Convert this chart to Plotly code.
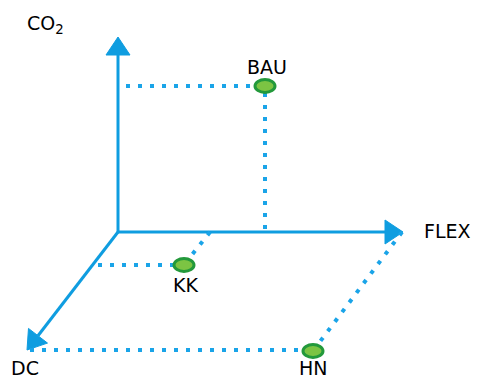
import numpy as np
import plotly.graph_objects as go

# diagram coordinates (pixel space of the original picture, y pointing down)
origin = (118, 232)
axis_names = ["CO<sub>2</sub>", "FLEX", "DC"]
axis_tips_x = [118, 403, 27]
axis_tips_y = [37, 232, 350]
axis_label_x = [45, 447, 25]
axis_label_y = [24, 231, 368]

scenarios = ["BAU", "KK", "HN"]
point_x = [265, 184, 313]
point_y = [86, 265, 351]
label_x = [267, 185, 313]
label_y = [67, 285, 368]

# dotted guide lines: (x0, y0, x1, y1)
guides_x0 = [126, 265, 98, 210, 30, 402]
guides_y0 = [86, 93, 265, 232, 350, 232]
guides_x1 = [255, 265, 174, 187, 302, 319]
guides_y1 = [86, 231, 265, 261, 350, 343]

blue = "#0f9de0"
dot_blue = "#1aa4e8"

fig = go.Figure()


def arrow_head(tip, base_start, length=18, half=12):
    tx, ty = tip
    dx, dy = tx - base_start[0], ty - base_start[1]
    n = np.hypot(dx, dy)
    ux, uy = dx / n, dy / n
    bx, by = tx - ux * length, ty - uy * length
    px, py = -uy, ux
    return ([bx + px * half, tx, bx - px * half, bx + px * half],
            [by + py * half, ty, by - py * half, by + py * half], (bx, by))


for tx, ty in zip(axis_tips_x, axis_tips_y):
    hx, hy, base = arrow_head((tx, ty), origin)
    fig.add_trace(go.Scatter(x=[origin[0], base[0]], y=[origin[1], base[1]], mode="lines",
                             line=dict(color=blue, width=3), hoverinfo="skip"))
    fig.add_trace(go.Scatter(x=hx, y=hy, mode="lines", fill="toself", fillcolor=blue,
                             line=dict(color=blue, width=1), hoverinfo="skip"))

for x0, y0, x1, y1 in zip(guides_x0, guides_y0, guides_x1, guides_y1):
    fig.add_trace(go.Scatter(x=[x0, x1], y=[y0, y1], mode="lines",
                             line=dict(color=dot_blue, width=4, dash="4px,8px"), hoverinfo="skip"))

for x, y in zip(point_x, point_y):
    fig.add_shape(type="circle", xref="x", yref="y", x0=x - 10, x1=x + 10, y0=y - 6.5, y1=y + 6.5,
                  fillcolor="#7cc443", line=dict(color="#23993b", width=3))

font = dict(family="DejaVu Sans", size=19, color="#000000")
for name, x, y in zip(axis_names + scenarios, axis_label_x + label_x, axis_label_y + label_y):
    fig.add_annotation(x=x, y=y, text=name, showarrow=False, font=font,
                       xanchor="center", yanchor="middle")

fig.update_xaxes(range=[0, 479], visible=False, fixedrange=True)
fig.update_yaxes(range=[378, 0], visible=False, fixedrange=True)
fig.update_layout(width=479, height=378, margin=dict(l=0, r=0, t=0, b=0),
                  plot_bgcolor="white", paper_bgcolor="white", showlegend=False)
fig.write_html("out.html", config={"displayModeBar": False},
               post_script="document.body.style.margin='0';")
